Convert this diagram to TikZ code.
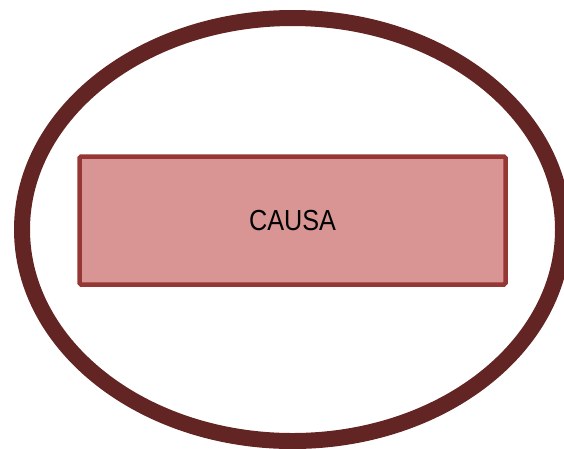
\documentclass[tikz,border=0pt]{standalone}
\usepackage{fontspec}
\setmainfont{Liberation Sans}[FakeStretch=0.87]
\usetikzlibrary{shapes.geometric}
\definecolor{ringcol}{HTML}{632523}
\definecolor{boxline}{HTML}{953735}
\definecolor{boxfill}{HTML}{D99594}
\tikzset{
  ring/.style={ellipse, draw=ringcol, line width=16pt, inner sep=0pt,
    minimum width=541pt, minimum height=423pt},
  causebox/.style={draw=boxline, fill=boxfill, line width=4.5pt, rounded corners=1.5pt,
    minimum width=426pt, minimum height=128pt, inner sep=0pt}
}
\begin{document}
\begin{tikzpicture}[x=1pt,y=-1pt]
\useasboundingbox (0,0) rectangle (564,448);
\clip (0,0) rectangle (564,448);
\node[ring] (ring) at (292.5,229.5) {};
\node[causebox] (causa) at (292.5,220.5) {};
\node (label) at (292.5,221) {\fontsize{29pt}{34pt}\selectfont CAUSA};
\end{tikzpicture}
\end{document}
